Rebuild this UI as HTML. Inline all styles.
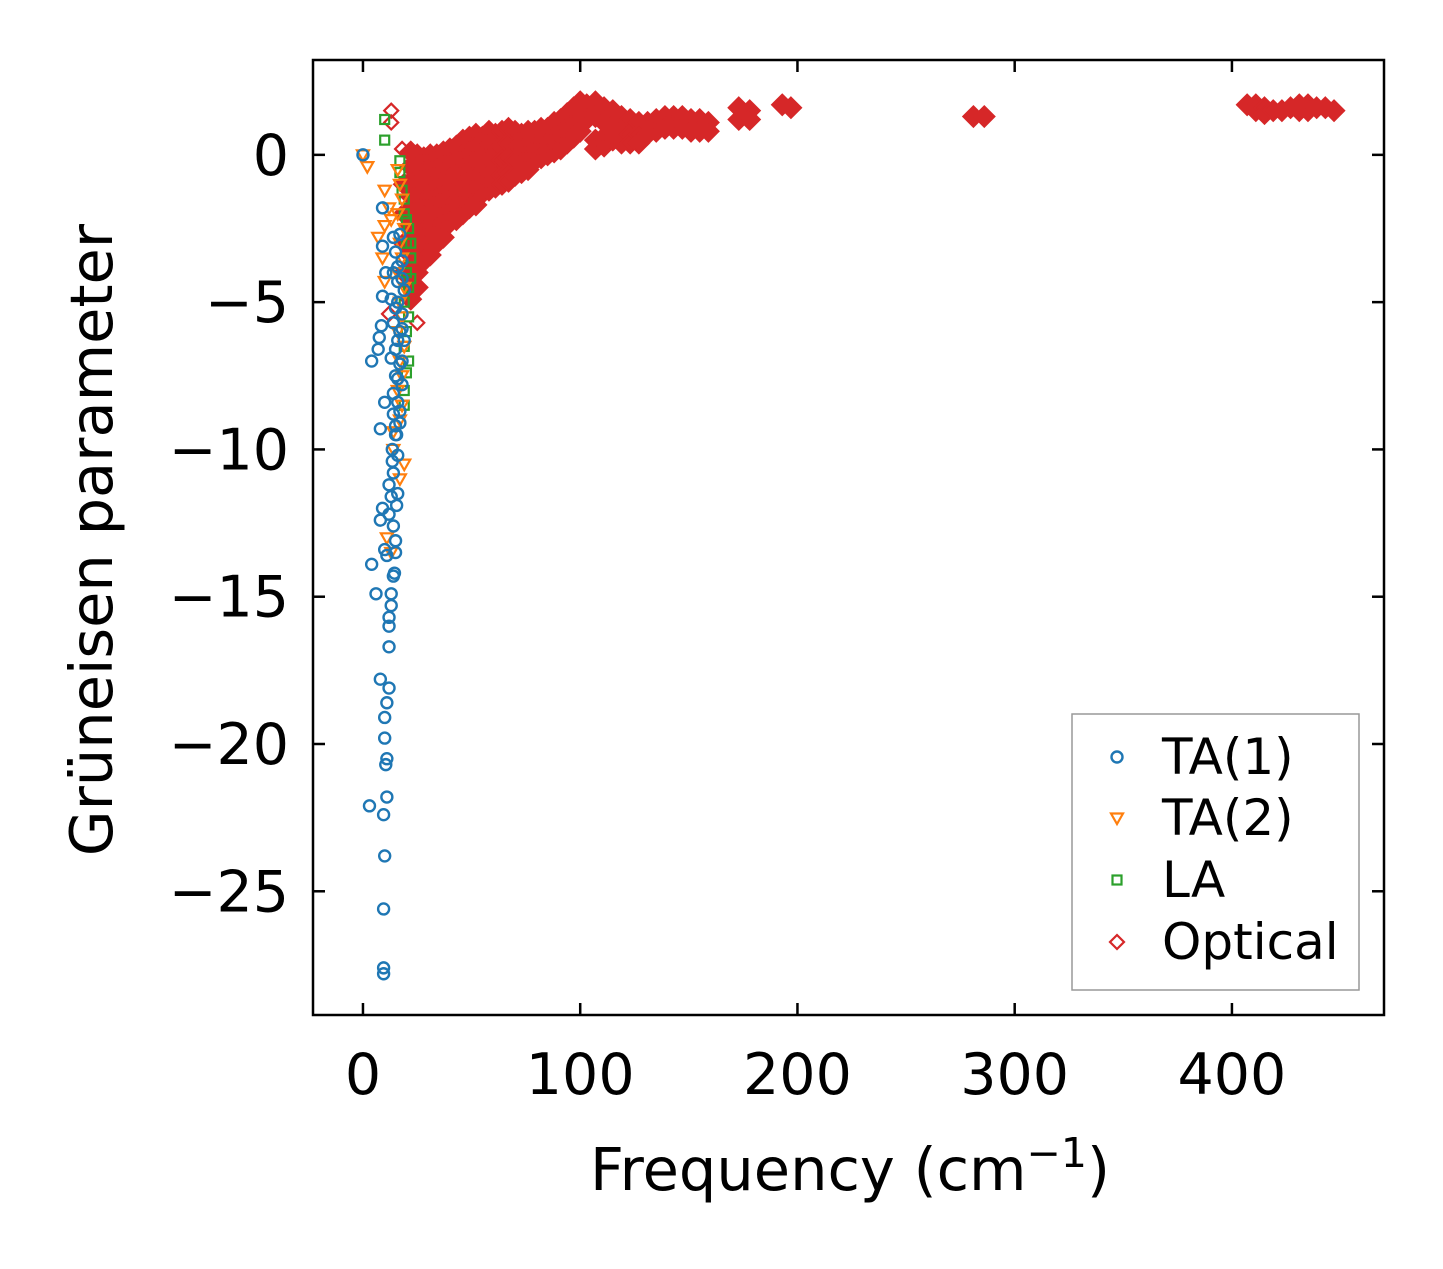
<!DOCTYPE html>
<html><head><meta charset="utf-8"><style>
html,body{margin:0;padding:0;background:#fff;}
svg text{font-family:"DejaVu Sans","Liberation Sans",sans-serif;fill:#000;}
</style></head><body>
<svg id="chart" width="1443" height="1264" xmlns="http://www.w3.org/2000/svg">
<rect x="0" y="0" width="1443" height="1264" fill="#fff"/>
<g id="marks"></g>
<g id="axes"></g>
</svg>
<script>
const xTicks=[0,100,200,300,400];
const yTicks=[0,-5,-10,-15,-20,-25];
const yTickLabels=["0","\u22125","\u221210","\u221215","\u221220","\u221225"];
const ta1Points=[[9.5,-27.8],[9.5,-27.6],[9.5,-25.6],[10,-23.8],[9.5,-22.4],[3,-22.1],[11,-21.8],[10.5,-20.7],[11,-20.5],[10,-19.8],[10,-19.1],[11,-18.6],[8,-17.8],[12,-18.1],[12,-16.7],[12,-16],[12,-15.7],[13,-15.3],[13,-14.9],[6,-14.9],[4,-13.9],[14,-14.3],[14.5,-14.2],[10,-13.4],[11,-13.6],[15,-13.5],[15,-13.1],[8,-12.4],[12,-12.2],[13,-11.6],[12,-11.2],[15.5,-11.9],[9,-12],[13.5,-10.4],[13.5,-10],[15.5,-9.5],[15,-9.2],[8,-9.3],[10,-8.4],[4,-7],[7,-6.6],[7.5,-6.2],[8.5,-5.8],[9,-4.8],[10.5,-4],[9,-3.1],[9,-1.8],[0,0],
[14,-2.8],[17,-2.7],[15,-3.3],[18,-3.6],[14,-4],[16,-4.3],[19,-4.6],[13,-4.9],[15,-5.2],[18,-5.4],[14,-5.7],[17,-6],[19,-6.3],[15,-6.6],[13,-6.9],[17,-7.1],[15,-7.5],[18,-7.8],[14,-8.1],[16,-8.4],[14,-8.8],[17,-9.1],[15,-9.5],[16,-10.2],[14,-10.8],[16,-11.5],[14,-12.6],[16,-3.8],[16,-5],[16,-6.3],[16,-7.6],[17,-8.7],[18,-4.2],[18,-5.9],[18,-7]];
const ta2Points=[[0,0],[2,-0.4],[10,-1.2],[7,-2.8],[10,-2.4],[9,-3.5],[10,-4.3],[19,-10.5],[17,-11],[11,-13],[12,-1.8],[13,-2.2],[16,-0.5],[17,-1],[18,-1.5],[16,-2],[19,-2.5],[17,-3],[18,-3.5],[16,-4],[19,-4.5],[17,-5],[18,-5.5],[16,-6],[19,-6.5],[17,-7],[18,-7.5],[16,-8],[18,-8.5],[17,-9],[14,-9.4],[13,-13.5],[14,-10]];
const laPoints=[[10,1.2],[10,0.5],[17,-0.2],[17,-0.6],[19,-1.5],[18,-1.2],[19,-2],[21,-2.5],[20,-3],[22,-3.5],[20,-4],[21,-4.5],[19,-5],[21,-5.5],[20,-6],[19,-6.5],[21,-7],[20,-7.4],[19,-8],[19,-8.5],[22,-3],[22,-4.2],[20,-2.2]];
const opticalPoints=[[19,-1],[19,-2],[19,-3],[19,-4],
[22,0.1],[22,-0.4],[22,-0.9],[22,-1.4],[22,-1.9],[22,-2.4],[22,-2.9],[22,-3.4],[22,-3.9],[22,-4.4],[22,-4.9],
[25,0],[25,-0.5],[25,-1],[25,-1.5],[25,-2],[25,-2.5],[25,-3],[25,-3.5],[25,-4],[25,-4.5],
[28,-0.1],[28,-0.6],[28,-1.1],[28,-1.6],[28,-2.1],[28,-2.6],[28,-3.1],[28,-3.6],
[31,0],[31,-0.5],[31,-1],[31,-1.5],[31,-2],[31,-2.5],[31,-3],[31,-3.4],
[34,0],[34,-0.5],[34,-1],[34,-1.5],[34,-2],[34,-2.5],[34,-3],
[37,0.1],[37,-0.4],[37,-0.9],[37,-1.4],[37,-1.9],[37,-2.4],[37,-2.8],
[40,0.2],[40,-0.3],[40,-0.8],[40,-1.3],[40,-1.8],[40,-2.3],
[43,0.3],[43,-0.2],[43,-0.7],[43,-1.2],[43,-1.7],[43,-2.2],
[46,0.5],[46,0],[46,-0.5],[46,-1],[46,-1.5],[46,-2],
[49,0.6],[49,0.1],[49,-0.4],[49,-0.9],[49,-1.4],[49,-1.8],
[52,0.7],[52,0.2],[52,-0.3],[52,-0.8],[52,-1.3],[52,-1.7],
[55,0.6],[55,0.1],[55,-0.4],[55,-0.9],[55,-1.3],
[58,0.8],[58,0.3],[58,-0.2],[58,-0.7],[58,-1.2],
[61,0.7],[61,0.2],[61,-0.3],[61,-0.8],[61,-1.1],
[64,0.8],[64,0.3],[64,-0.2],[64,-0.7],[64,-1],
[67,0.9],[67,0.4],[67,-0.1],[67,-0.6],[67,-0.9],
[70,0.8],[70,0.3],[70,-0.2],[70,-0.7],
[73,0.7],[73,0.2],[73,-0.3],[73,-0.6],
[76,0.8],[76,0.3],[76,-0.2],[76,-0.5],
[79,0.8],[79,0.3],[79,-0.2],
[82,0.9],[82,0.4],[82,-0.1],
[85,0.9],[85,0.4],[85,0],
[88,1.1],[88,0.6],[88,0.1],
[91,1.2],[91,0.7],[91,0.2],
[94,1.4],[94,0.9],[94,0.4],
[97,1.6],[97,1.1],[97,0.6],
[100,1.8],[100,1.3],[100,0.8],
[103,1.7],[103,1.2],
[107,1.8],[107,1.3],[107,0.5],[107,0.2],
[111,1.6],[111,1.1],[111,0.6],[111,0.3],
[115,1.5],[115,1],[115,0.5],
[119,1.3],[119,0.8],[119,0.4],
[123,1.2],[123,0.7],[123,0.4],
[127,1.1],[127,0.7],[127,0.4],
[131,1.1],[131,0.7],[135,1.2],[135,0.8],[139,1.3],[139,0.9],[143,1.3],[143,0.9],[147,1.3],[147,0.9],
[151,1.2],[151,0.8],[155,1.2],[155,0.8],[159,1.1],[159,0.8],
[173,1.6],[173,1.2],[178,1.5],[178,1.2],[193,1.7],[197,1.6],[281,1.3],[286,1.3],
[407,1.7],[411,1.7],[411,1.5],[415,1.6],[415,1.4],[419,1.5],[423,1.5],[427,1.6],[431,1.7],[431,1.5],[435,1.7],[435,1.5],[439,1.6],[443,1.6],[447,1.5]];
const opticalOutliers=[[13,1.5],[13,1.1],[18,0.2],[12,-5.4],[25,-5.7]];

const L=313,R=1384,T=60,B=1015;
const xMin=-23,xMax=470,yMin=-29.2,yMax=3.22;
function xs(v){return L+(v-xMin)/(xMax-xMin)*(R-L);}
function ys(v){return B-(v-yMin)/(yMax-yMin)*(B-T);}
const NS="http://www.w3.org/2000/svg";
const marks=document.getElementById('marks'),axes=document.getElementById('axes');
function mk(tag,attrs,parent){const e=document.createElementNS(NS,tag);for(const k in attrs)e.setAttribute(k,attrs[k]);parent.appendChild(e);return e;}
const C={ta1:'#1f77b4',ta2:'#ff7f0e',la:'#2ca02c',op:'#d62728'};
function circle(x,y,p){return mk('circle',{cx:x,cy:y,r:5.5,fill:'none',stroke:C.ta1,'stroke-width':2.4},p);}
function tri(x,y,p){return mk('path',{d:`M${x-6},${y-4.5}L${x+6},${y-4.5}L${x},${y+6}Z`,fill:'none',stroke:C.ta2,'stroke-width':2.2},p);}
function sq(x,y,p){return mk('rect',{x:x-4.5,y:y-4.5,width:9,height:9,fill:'none',stroke:C.la,'stroke-width':2.2},p);}
function dia(x,y,p,fill,h){h=h||7;return mk('path',{d:`M${x},${y-h}L${x+h},${y}L${x},${y+h}L${x-h},${y}Z`,fill:fill,stroke:C.op,'stroke-width':2.2},p);}

opticalPoints.forEach(d=>{const e=dia(xs(d[0]),ys(d[1]),marks,C.op,10);

});
opticalOutliers.forEach(d=>{const e=dia(xs(d[0]),ys(d[1]),marks,'none');

});
laPoints.forEach(d=>{const e=sq(xs(d[0]),ys(d[1]),marks);

});
ta2Points.forEach(d=>{const e=tri(xs(d[0]),ys(d[1]),marks);

});
ta1Points.forEach(d=>{const e=circle(xs(d[0]),ys(d[1]),marks);

});

const fr=mk('rect',{x:L,y:T,width:R-L,height:B-T,fill:'none',stroke:'#000','stroke-width':2.5},axes);


xTicks.forEach(v=>{const x=xs(v);
const t1=mk('line',{x1:x,x2:x,y1:B,y2:B-12,stroke:'#000','stroke-width':2.5},axes);


const t2=mk('line',{x1:x,x2:x,y1:T,y2:T+12,stroke:'#000','stroke-width':2.5},axes);


const tx=mk('text',{x:x,y:1094,'text-anchor':'middle','font-size':57},axes);tx.textContent=String(v);

});
yTicks.forEach((v,i)=>{const y=ys(v);
const t1=mk('line',{x1:L,x2:L+12,y1:y,y2:y,stroke:'#000','stroke-width':2.5},axes);


const t2=mk('line',{x1:R,x2:R-12,y1:y,y2:y,stroke:'#000','stroke-width':2.5},axes);


const tx=mk('text',{x:289,y:y+20,'text-anchor':'end','font-size':57},axes);tx.textContent=yTickLabels[i];

});
const xl=mk('text',{x:850,y:1190,'text-anchor':'middle','font-size':59},axes);
xl.innerHTML='Frequency (cm<tspan dy="-23" font-size="41">\u22121</tspan><tspan dy="23">)</tspan>';


const yl=mk('text',{x:0,y:0,'text-anchor':'middle','font-size':59,transform:'translate(112,540) rotate(-90)'},axes);
yl.textContent='Grüneisen parameter';


const lg=mk('g',{},axes);


mk('rect',{x:1072,y:714,width:287,height:276,fill:'#fff',stroke:'#999','stroke-width':1.5},lg);
const names=['TA(1)','TA(2)','LA','Optical'];const rowsY=[757,818,880,942];
const fns=[circle,tri,sq,(x,y,p)=>dia(x,y,p,'none')];
names.forEach((n,i)=>{const m=fns[i](1117,rowsY[i],lg);


const t=mk('text',{x:1162,y:rowsY[i]+17,'font-size':50},lg);t.textContent=n;

});
</script>
</body></html>
